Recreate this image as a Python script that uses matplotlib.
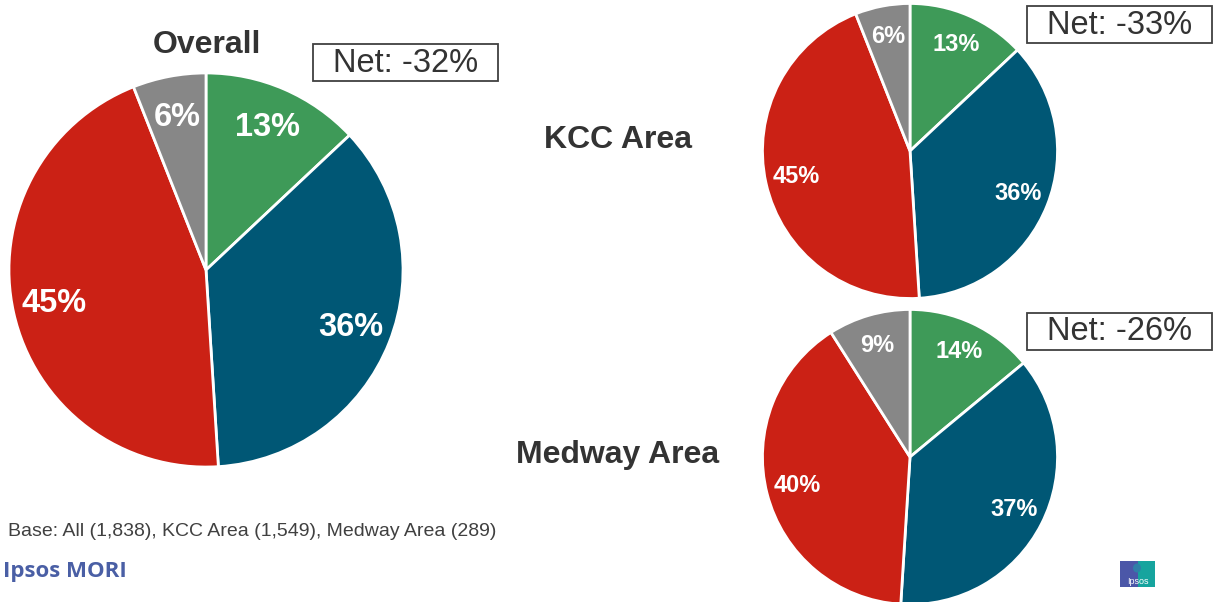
import matplotlib
matplotlib.use("Agg")
import matplotlib.pyplot as plt
from matplotlib.patches import Rectangle, Ellipse

plt.rcParams['font.family'] = ['Liberation Sans', 'DejaVu Sans']

# slice order: clockwise from 12 o'clock
COLORS = ['#3e9a58', '#005775', '#cb2115', '#878787']

overall = [13, 36, 45, 6]
kcc = [13, 36, 45, 6]
medway = [14, 37, 40, 9]

titles = ['Overall', 'KCC Area', 'Medway Area']
nets = ['Net: -32%', 'Net: -33%', 'Net: -26%']
base_text = 'Base: All (1,838), KCC Area (1,549), Medway Area (289)'

W, H = 1215, 602
fig = plt.figure(figsize=(W / 100, H / 100), dpi=100)


def pie_axes(cx, cy, r):
	# place a square axes in pixel coords (y from top)
	return fig.add_axes([(cx - r) / W, (H - cy - r) / H, 2 * r / W, 2 * r / H])


def draw_pie(ax, vals, fs):
	ax.pie(vals, colors=COLORS, startangle=90, counterclock=False,
		   autopct=lambda p: f'{p:.0f}%', pctdistance=0.79,
		   wedgeprops=dict(edgecolor='white', linewidth=2),
		   textprops=dict(color='white', fontsize=fs, fontweight='bold'))
	ax.set_xlim(-1.01, 1.01)
	ax.set_ylim(-1.01, 1.01)
	ax.axis('off')


draw_pie(pie_axes(206, 270, 199), overall, 23.5)
draw_pie(pie_axes(910, 151, 149), kcc, 17)
draw_pie(pie_axes(910, 457, 149), medway, 17)

# overlay for text and boxes, pixel coords
ov = fig.add_axes([0, 0, 1, 1], zorder=-1)
ov.set_xlim(0, W)
ov.set_ylim(H, 0)
ov.axis('off')

for (x, y), t in zip([(207, 45), (618, 140), (618, 455)], titles):
	ov.text(x, y, t, ha='center', va='center', fontsize=23,
			fontweight='bold', color='#333333')

for (x0, y0), t in zip([(313, 44), (1027, 6), (1027, 313)], nets):
	ov.add_patch(Rectangle((x0, y0), 185, 37, fill=False,
						   edgecolor='#404040', linewidth=1.3))
	ov.text(x0 + 92.5, y0 + 19, t, ha='center', va='center',
			fontsize=23.5, color='#333333')

ov.text(8, 531, base_text, ha='left', va='center', fontsize=14, color='#404040')
ov.text(3, 571, 'Ipsos MORI', ha='left', va='center', fontsize=16,
		fontweight='bold', color='#4a5fa5', family=['Open Sans', 'DejaVu Sans'])

# little logo bottom right
ov.add_patch(Rectangle((1120, 561), 18, 26, color='#4b57a8', lw=0))
ov.add_patch(Rectangle((1138, 561), 17, 26, color='#16a49e', lw=0))
ov.add_patch(Ellipse((1137, 568), 8, 9, color='#2f7fa8', lw=0))
ov.text(1137.5, 581, 'Ipsos', ha='center', va='center', fontsize=6.5, color='white')

fig.savefig('out.png', dpi=100)
